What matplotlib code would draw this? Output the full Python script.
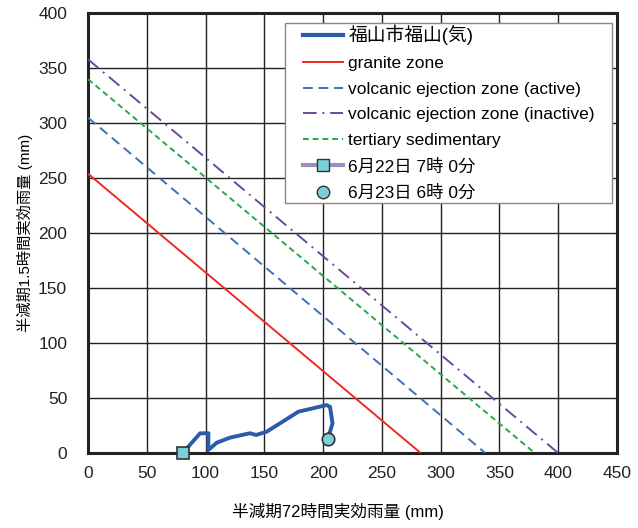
import matplotlib.pyplot as plt
from matplotlib.lines import Line2D
from matplotlib.patches import Rectangle

plt.rcParams['font.family'] = ['Liberation Sans', 'Noto Sans CJK JP', 'DejaVu Sans']

# 実効雨量の軌跡 (72h, 1.5h)
rain72 = [80.5, 95.3, 102.4, 102.3, 109.5, 120.8, 137.8, 143.0, 152.0, 179.0, 203.0, 205.9, 208.0, 203.9]
rain15 = [0.0, 17.9, 18.0, 2.7, 9.4, 14.0, 18.0, 16.4, 19.4, 37.6, 43.6, 42.0, 27.0, 12.4]

# 基準線 (切片: y軸, x軸)
zone_names = ['granite zone', 'volcanic ejection zone (active)',
              'volcanic ejection zone (inactive)', 'tertiary sedimentary']
zone_y0 = [254, 305, 358, 340]
zone_x0 = [283, 338, 400, 380]
zone_colors = ['#ee2a24', '#3f6fb8', '#6a47a0', '#27a84a']
zone_styles = ['-', (0, (5, 3)), (0, (7, 3, 1, 3)), (0, (3, 2))]

start_label = '6月22日 7時 0分'
end_label = '6月23日 6時 0分'

fig = plt.figure(figsize=(6.38, 5.28), dpi=100)
ax = fig.add_axes([0.138, 0.142, 0.829, 0.833])

for name, y0, x0, c, ls in zip(zone_names, zone_y0, zone_x0, zone_colors, zone_styles):
    ax.plot([0, x0], [y0, 0], color=c, ls=ls, lw=1.4, label=name, zorder=3)

ax.plot(rain72, rain15, color='#2a5caa', lw=2.8, zorder=4, solid_joinstyle='round')
ax.plot(rain72[0], rain15[0], marker='s', ms=9, mfc='#7ccfd6', mec='#333333', mew=1.2,
        ls='none', zorder=5, clip_on=False)
ax.plot(rain72[-1], rain15[-1], marker='o', ms=9, mfc='#7ccfd6', mec='#333333', mew=1.2,
        ls='none', zorder=5)

ax.set_xlim(0, 450)
ax.set_ylim(0, 400)
ax.set_xticks(range(0, 451, 50))
ax.set_yticks(range(0, 401, 50))
ax.grid(True, color='#222222', lw=1.0)
ax.set_axisbelow(True)
ax.tick_params(length=0, labelsize=12.5, colors='#222222')
ax.tick_params(axis='x', pad=9)
ax.tick_params(axis='y', pad=15)
for s in ax.spines.values():
    s.set_linewidth(2.2)
    s.set_color('#222222')

ax.set_xlabel('半減期72時間実効雨量 (mm)', fontsize=12)
ax.set_ylabel('半減期1.5時間実効雨量 (mm)', fontsize=11)
ax.xaxis.set_label_coords(0.473, -0.114)
ax.yaxis.set_label_coords(-0.104, 0.5)

# 凡例枠（左右の余白を広めに取る）
ax.add_patch(Rectangle((0.3724, 0.568), 0.618, 0.409, transform=ax.transAxes,
                       facecolor='white', edgecolor='#888888', lw=1.0, zorder=9))

handles = [Line2D([], [], color='#2a5caa', lw=3, label='福山市福山(気)')]
handles += [Line2D([], [], color=c, ls=ls, lw=1.4, label=n)
            for n, c, ls in zip(zone_names, zone_colors, zone_styles)]
handles.append(Line2D([], [], color='#9b8fbf', lw=3, marker='s', ms=9, mfc='#7ccfd6',
                      mec='#333333', label=start_label))
handles.append(Line2D([], [], color='none', marker='o', ms=9, mfc='#7ccfd6',
                      mec='#333333', label=end_label))
leg = ax.legend(handles=handles, loc='upper left', bbox_to_anchor=(0.4064, 0.973),
                borderaxespad=0, borderpad=0, frameon=False, fontsize=12.5,
                handlelength=2.3, handletextpad=0.3, labelspacing=0.6)
leg.get_texts()[0].set_fontsize(13.5)
leg.set_zorder(10)

fig.savefig('out.png', dpi=100)
